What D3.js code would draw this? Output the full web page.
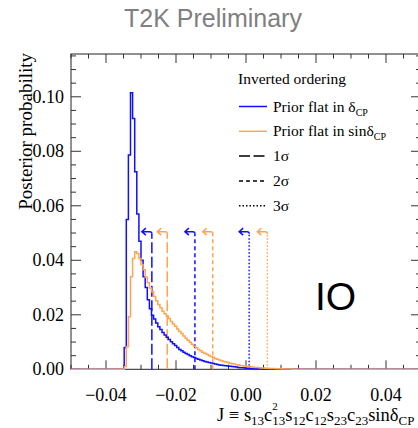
<!DOCTYPE html>
<html>
<head>
<meta charset="utf-8">
<script src="https://cdn.jsdelivr.net/npm/d3@7"></script>
<style>
    body { margin: 0; background: #fff; }
    svg { display: block; }
</style>
</head>
<body>
<svg id="chart"></svg>
<script>
// histogram bins (J)
const binStart = -0.0348;
const binWidth = 0.0006;

const flatDeltaVals = [
    0.008, 0.055, 0.0786, 0.1015, 0.092, 0.0725, 0.057, 0.047, 0.040, 0.034,
    0.030, 0.0255, 0.0222, 0.0198, 0.0185, 0.0170, 0.0156, 0.0146, 0.0135, 0.0126,
    0.0118, 0.0109, 0.0101, 0.0094, 0.0087, 0.0080, 0.0073, 0.0068, 0.0063, 0.0058,
    0.0054, 0.0050, 0.0046, 0.0043, 0.0040, 0.0037, 0.0034, 0.0031, 0.0029, 0.0027,
    0.0025, 0.0023, 0.0021, 0.0019, 0.0018, 0.0016, 0.0015, 0.0014, 0.0013, 0.0012,
    0.0011, 0.0010, 0.0009, 0.0008, 0.0007, 0.0006, 0.0006, 0.0005, 0.0004, 0.0004,
    0.0003, 0.0003, 0.0002, 0.0002, 0.0002, 0.0001, 0.0001, 0.0001, 0.0001, 0.0001
];

const flatSinVals = [
    0.001, 0.0083, 0.0193, 0.034, 0.0407, 0.0431, 0.0425, 0.0407, 0.0385, 0.0365,
    0.0338, 0.0318, 0.0298, 0.0285, 0.0267, 0.0252, 0.0238, 0.0226, 0.0213, 0.0204,
    0.0196, 0.0186, 0.0175, 0.0166, 0.0158, 0.0148, 0.0139, 0.0131, 0.0122, 0.0114,
    0.0107, 0.0099, 0.0092, 0.0085, 0.0079, 0.0073, 0.0068, 0.0063, 0.0059, 0.0055,
    0.0051, 0.0047, 0.0044, 0.0040, 0.0037, 0.0034, 0.0031, 0.0029, 0.0027, 0.0025,
    0.0022, 0.0020, 0.0019, 0.0017, 0.0016, 0.0014, 0.0013, 0.0012, 0.0011, 0.0010,
    0.0009, 0.0008, 0.0007, 0.0007, 0.0006, 0.0005, 0.0005, 0.0004, 0.0004, 0.0003,
    0.0003, 0.0003, 0.0002, 0.0002, 0.0002, 0.0001, 0.0001, 0.0001, 0.0001, 0.0001
];

// credible interval edges (upper limits), with arrows pointing left
const sigmaLabels = ["1σ", "2σ", "3σ"];
const flatDeltaSigma = [-0.0269, -0.0146, 0.0009];
const flatSinSigma = [-0.0225, -0.0095, 0.0061];
const arrowLevel = 0.0505;

const xTicks = [-0.04, -0.02, 0.00, 0.02, 0.04];
const yTicks = [0.00, 0.02, 0.04, 0.06, 0.08, 0.10];
const xDomain = [-0.05, 0.05];
const yDomain = [0, 0.1157];

const width = 418, height = 428;
const plot = { left: 71, right: 421, top: 54, bottom: 369.3 };

const blue = "#1010ff";
const orange = "#ffa54f";
const serif = "'Liberation Serif', 'Times New Roman', serif";
const sans = "'Liberation Sans', Arial, sans-serif";
const dashes = ["11,3.5", "4,3", "1.5,2"];

const svg = d3.select("#chart").attr("width", width).attr("height", height);

const x = d3.scaleLinear().domain(xDomain).range([plot.left, plot.right]);
const y = d3.scaleLinear().domain(yDomain).range([plot.bottom, plot.top]);

// title
svg.append("text")
    .attr("x", 213).attr("y", 27)
    .attr("text-anchor", "middle")
    .attr("font-family", sans).attr("font-size", 25)
    .attr("fill", "#808080")
    .text("T2K Preliminary");

// frame + ticks on all four sides
const frame = svg.append("g");
frame.append("rect")
    .attr("x", plot.left).attr("y", plot.top)
    .attr("width", plot.right - plot.left).attr("height", plot.bottom - plot.top)
    .attr("fill", "none").attr("stroke", "#222").attr("stroke-width", 1);

const xMinor = d3.range(-0.05, 0.0501, 0.005).map(v => +v.toFixed(3));
const yMinor = d3.range(0, 0.1151, 0.005).map(v => +v.toFixed(3));
const isMajor = (v, step) => Math.abs(v / step - Math.round(v / step)) < 1e-6;

xMinor.forEach(v => {
    const len = isMajor(v, 0.02) ? 9 : 4.5;
    frame.append("line").attr("x1", x(v)).attr("x2", x(v))
        .attr("y1", plot.bottom).attr("y2", plot.bottom - len)
        .attr("stroke", "#333");
    frame.append("line").attr("x1", x(v)).attr("x2", x(v))
        .attr("y1", plot.top).attr("y2", plot.top + len)
        .attr("stroke", "#333");
});
yMinor.forEach(v => {
    const len = isMajor(v, 0.02) ? 10 : 5;
    frame.append("line").attr("y1", y(v)).attr("y2", y(v))
        .attr("x1", plot.left).attr("x2", plot.left + len)
        .attr("stroke", "#333");
    frame.append("line").attr("y1", y(v)).attr("y2", y(v))
        .attr("x1", plot.right).attr("x2", plot.right - len)
        .attr("stroke", "#333");
});

// tick labels
const fmt = d3.format(".2f");
svg.append("g").selectAll("text")
    .data(xTicks).join("text")
    .attr("x", d => x(d)).attr("y", 401)
    .attr("text-anchor", "middle")
    .attr("font-family", serif).attr("font-size", 18)
    .text(d => fmt(d));
svg.append("g").selectAll("text")
    .data(yTicks).join("text")
    .attr("x", 64).attr("y", d => y(d) + 6)
    .attr("text-anchor", "end")
    .attr("font-family", serif).attr("font-size", 18)
    .text(d => fmt(d));

// axis titles
svg.append("text")
    .attr("transform", `translate(32, ${plot.top - 1}) rotate(-90)`)
    .attr("text-anchor", "end")
    .attr("font-family", serif).attr("font-size", 19)
    .text("Posterior probability");

const xt = svg.append("text")
    .attr("x", 217).attr("y", 420.5)
    .attr("font-family", serif).attr("font-size", 18.5);
const sub = t => xt.append("tspan").attr("font-size", 13).attr("dy", 4).text(t);
const main = t => xt.append("tspan").attr("font-size", 18.5).attr("dy", -4).text(t);
xt.append("tspan").text("J \u2261 s");
sub("13");
main("c");
xt.append("tspan").attr("font-size", 11).attr("dy", -11).text("2");
xt.append("tspan").attr("font-size", 13).attr("dy", 15).attr("dx", -5.5).text("13");
xt.append("tspan").attr("font-size", 18.5).attr("dy", -4).text("s");
sub("12"); main("c"); sub("12"); main("s"); sub("23"); main("c"); sub("23");
main("sin\u03b4"); sub("CP");

// histograms
function histPoints(vals) {
    const pts = [[xDomain[0], 0]];
    vals.forEach((v, i) => pts.push([binStart + i * binWidth, v]));
    pts.push([binStart + vals.length * binWidth, 0]);
    pts.push([xDomain[1], 0]);
    return pts;
}
const stepLine = d3.line()
    .x(d => x(d[0])).y(d => y(d[1]))
    .curve(d3.curveStepAfter);

// interval lines with left arrows
function sigmaMarks(vals, color) {
    const g = svg.append("g").attr("stroke", color).attr("fill", "none").attr("stroke-width", 1.5);
    vals.forEach((v, i) => {
        const px = x(v), top = y(arrowLevel);
        g.append("line")
            .attr("x1", px).attr("x2", px)
            .attr("y1", plot.bottom).attr("y2", top + 2)
            .attr("stroke-dasharray", dashes[i]);
        g.append("path")
            .attr("d", `M${px},${top + 2} Q${px},${top} ${px - 2},${top} H${px - 10} M${px - 6},${top - 3.5} L${px - 10},${top} L${px - 6},${top + 3.5}`);
    });
}
sigmaMarks(flatDeltaSigma, blue);
sigmaMarks(flatSinSigma, orange);

svg.append("path")
    .attr("d", stepLine(histPoints(flatDeltaVals)))
    .attr("fill", "none").attr("stroke", blue).attr("stroke-width", 1.5);
svg.append("path")
    .attr("d", stepLine(histPoints(flatSinVals)))
    .attr("fill", "none").attr("stroke", orange).attr("stroke-width", 1.5);

// legend
const legend = svg.append("g").attr("font-family", serif).attr("font-size", 15.5);
legend.append("text").attr("x", 238).attr("y", 84).text("Inverted ordering");

const entries = [
    { color: blue, dash: null, label: "Prior flat in \u03b4", sub: "CP" },
    { color: orange, dash: null, label: "Prior flat in sin\u03b4", sub: "CP" },
    { color: "#000", dash: dashes[0], label: sigmaLabels[0] },
    { color: "#000", dash: dashes[1], label: sigmaLabels[1] },
    { color: "#000", dash: dashes[2], label: sigmaLabels[2] }
];
entries.forEach((e, i) => {
    const ly = 106.5 + i * 24.8;
    legend.append("line")
        .attr("x1", 239).attr("x2", 267).attr("y1", ly).attr("y2", ly)
        .attr("stroke", e.color).attr("stroke-width", 1.5)
        .attr("stroke-dasharray", e.dash);
    const t = legend.append("text").attr("x", 273).attr("y", ly + 5);
    t.append("tspan").text(e.label);
    if (e.sub) t.append("tspan").attr("font-size", 10).attr("dy", 4).text(e.sub);
});

// IO label
svg.append("text")
    .attr("x", 315).attr("y", 310)
    .attr("font-family", sans).attr("font-size", 39)
    .text("IO");
</script>
</body>
</html>
